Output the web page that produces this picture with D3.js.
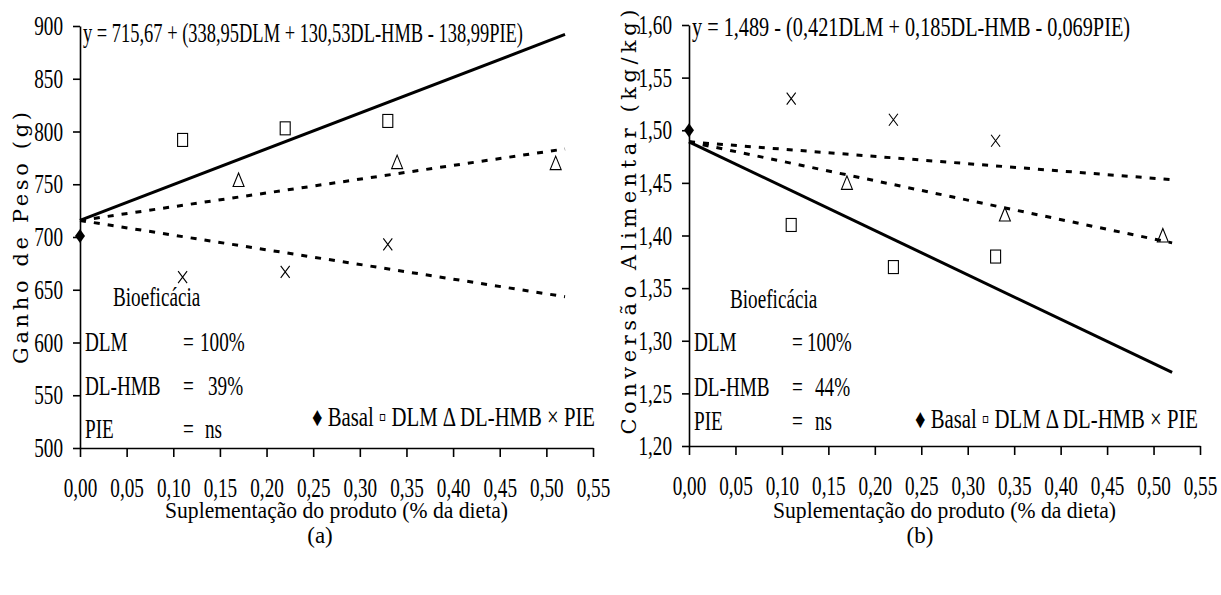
<!DOCTYPE html>
<html>
<head>
<meta charset="utf-8">
<script src="https://cdn.jsdelivr.net/npm/d3@7"></script>
<style>
  body { margin: 0; background: #fff; }
  text { font-family: "Liberation Serif", "Times New Roman", serif; fill: #000; }
</style>
</head>
<body>
<div id="chart"></div>
<script>
// shared x values
const xTicks = [0, 0.05, 0.10, 0.15, 0.20, 0.25, 0.30, 0.35, 0.40, 0.45, 0.50, 0.55];
const basalX = [0];
const dlmX = [0.11, 0.22, 0.33];
const hmbX = [0.17, 0.34, 0.51];
const pieX = [0.11, 0.22, 0.33];
const fitX = [0, 0.52];

// (a) Ganho de Peso
const yTicksA = [500, 550, 600, 650, 700, 750, 800, 850, 900];
const basalA = [701];
const dlmA = [792, 803, 810];
const hmbA = [754, 771, 770];
const pieA = [662, 667, 693];
const fitDlmA = [715.67, 892.0];
const fitHmbA = [715.67, 783.5];
const fitPieA = [715.67, 643.4];

// (b) Conversão Alimentar
const yTicksB = [1.20, 1.25, 1.30, 1.35, 1.40, 1.45, 1.50, 1.55, 1.60];
const basalB = [1.50];
const dlmB = [1.41, 1.37, 1.38];
const hmbB = [1.45, 1.42, 1.40];
const pieB = [1.53, 1.51, 1.49];
const fitDlmB = [1.489, 1.270];
const fitHmbB = [1.489, 1.393];
const fitPieB = [1.489, 1.453];

const svg = d3.select('#chart')
    .append('svg')
    .attr('width', 1221)
    .attr('height', 595);

const comma = f => v => d3.format(f)(v).replace('.', ',');

// squeeze text horizontally, the original glyphs are tall and narrow
function squeeze(sel, k) {
    sel.each(function () {
        let w = this.getComputedTextLength();
        d3.select(this).attr('textLength', w * k).attr('lengthAdjust', 'spacingAndGlyphs');
    });
}

function drawPanel(p) {
    let g = svg.append('g');
    let x = d3.scaleLinear().domain([0, 0.55]).range([p.left, p.right]);
    let y = d3.scaleLinear().domain(p.yDomain).range([p.bottom, p.top]);

    // fitted lines
    let line = d3.line().x(d => x(d[0])).y(d => y(d[1]));
    g.append('path')
        .attr('d', line(d3.zip(fitX, p.fitDlm)))
        .attr('fill', 'none').attr('stroke', '#000').attr('stroke-width', 3);
    g.append('path')
        .attr('d', line(d3.zip(fitX, p.fitHmb)))
        .attr('fill', 'none').attr('stroke', '#000').attr('stroke-width', 3)
        .attr('stroke-dasharray', '6,8');
    g.append('path')
        .attr('d', line(d3.zip(fitX, p.fitPie)))
        .attr('fill', 'none').attr('stroke', '#000').attr('stroke-width', 3)
        .attr('stroke-dasharray', '6,8');

    // axes
    let xAxis = g.append('g')
        .attr('transform', 'translate(0,' + p.bottom + ')')
        .call(d3.axisBottom(x).tickValues(xTicks).tickSize(9).tickSizeOuter(0)
            .tickPadding(25).tickFormat(comma('.2f')));
    let yAxis = g.append('g')
        .attr('transform', 'translate(' + p.left + ',0)')
        .call(d3.axisLeft(y).tickValues(p.yTicks).tickSize(7).tickSizeOuter(0)
            .tickPadding(10).tickFormat(p.yFormat));
    [xAxis, yAxis].forEach(a => {
        a.select('.domain').attr('stroke-width', 1.6);
        a.selectAll('.tick line').attr('stroke-width', 1.6);
        a.selectAll('text')
            .style('font-family', '"Liberation Serif", serif')
            .style('font-size', '27px');
        squeeze(a.selectAll('text'), 0.71);
    });
    xAxis.selectAll('text').attr('y', 30);

    // points
    g.selectAll('.basal').data(basalX).enter().append('path')
        .attr('transform', (d, i) => 'translate(' + x(d) + ',' + y(p.basal[i]) + ')')
        .attr('d', 'M0,-7L5,0L0,7L-5,0Z').attr('fill', '#000');
    g.selectAll('.dlm').data(dlmX).enter().append('rect')
        .attr('x', d => x(d) - 5).attr('y', (d, i) => y(p.dlm[i]) - 6.5)
        .attr('width', 10).attr('height', 13)
        .attr('fill', 'none').attr('stroke', '#000').attr('stroke-width', 1.1);
    g.selectAll('.hmb').data(hmbX).enter().append('path')
        .attr('transform', (d, i) => 'translate(' + x(d) + ',' + y(p.hmb[i]) + ')')
        .attr('d', 'M0,-7L5.5,6.5L-5.5,6.5Z')
        .attr('fill', 'none').attr('stroke', '#000').attr('stroke-width', 1.1);
    g.selectAll('.pie').data(pieX).enter().append('path')
        .attr('transform', (d, i) => 'translate(' + x(d) + ',' + y(p.pie[i]) + ')')
        .attr('d', 'M-4.5,-6L4.5,6M4.5,-6L-4.5,6')
        .attr('fill', 'none').attr('stroke', '#000').attr('stroke-width', 1.1);

    // equation
    g.append('text')
        .attr('x', p.left + 3).attr('y', p.eqY)
        .style('font-size', '27px')
        .attr('textLength', p.eqLen).attr('lengthAdjust', 'spacingAndGlyphs')
        .text(p.equation);

    // bioeficácia block
    let b = g.append('g').style('font-size', '27px');
    b.append('text').attr('x', p.bioX).attr('y', p.bioY[0]).text('Bioeficácia');
    p.bioRows.forEach((r, i) => {
        b.append('text').attr('x', p.left + 5).attr('y', p.bioY[i + 1]).text(r[0]);
        b.append('text').attr('x', p.eqX).attr('y', p.bioY[i + 1]).text('=');
        b.append('text').attr('x', p.valX[i]).attr('y', p.bioY[i + 1]).text(r[1]);
    });
    squeeze(b.selectAll('text'), 0.71);

    // legend
    g.append('text')
        .attr('x', p.legX).attr('y', p.legY)
        .style('font-size', '27px')
        .attr('textLength', 283).attr('lengthAdjust', 'spacingAndGlyphs')
        .text('\u2666 Basal \u25AB DLM \u0394 DL-HMB \u00D7 PIE');

    // axis titles
    g.append('text')
        .attr('x', (p.left + p.right) / 2).attr('y', 518)
        .attr('text-anchor', 'middle')
        .style('font-size', '23px')
        .attr('textLength', 343).attr('lengthAdjust', 'spacingAndGlyphs')
        .text('Suplementação do produto (% da dieta)');
    g.append('text')
        .attr('transform', 'translate(' + p.titleX + ',' + p.titleY + ') rotate(-90)')
        .attr('text-anchor', 'middle')
        .style('font-family', '"DejaVu Serif", serif')
        .style('font-size', '21px')
        .attr('textLength', p.titleLen).attr('lengthAdjust', 'spacing')
        .text(p.yTitle);
    g.append('text')
        .attr('x', p.capX).attr('y', 543)
        .attr('text-anchor', 'middle')
        .style('font-size', '23px')
        .text(p.caption);
}

drawPanel({
    left: 80, right: 593, top: 26, bottom: 448,
    yDomain: [500, 900], yTicks: yTicksA, yFormat: d3.format('d'),
    basal: basalA, dlm: dlmA, hmb: hmbA, pie: pieA,
    fitDlm: fitDlmA, fitHmb: fitHmbA, fitPie: fitPieA,
    equation: 'y = 715,67 + (338,95DLM + 130,53DL-HMB - 138,99PIE)',
    eqY: 42, eqLen: 440,
    bioX: 113, bioY: [306, 351, 395, 438], eqX: 183, valX: [200, 208, 205],
    bioRows: [['DLM', '100%'], ['DL-HMB', '39%'], ['PIE', 'ns']],
    legX: 312, legY: 426,
    yTitle: 'Ganho de Peso (g)', titleX: 28, titleY: 238, titleLen: 252,
    capX: 320, caption: '(a)'
});

drawPanel({
    left: 689, right: 1200, top: 25, bottom: 446,
    yDomain: [1.2, 1.6], yTicks: yTicksB, yFormat: comma('.2f'),
    basal: basalB, dlm: dlmB, hmb: hmbB, pie: pieB,
    fitDlm: fitDlmB, fitHmb: fitHmbB, fitPie: fitPieB,
    equation: 'y = 1,489 - (0,421DLM + 0,185DL-HMB - 0,069PIE)',
    eqY: 36, eqLen: 438,
    bioX: 730, bioY: [308, 351, 396, 430], eqX: 792, valX: [807, 815, 815],
    bioRows: [['DLM', '100%'], ['DL-HMB', '44%'], ['PIE', 'ns']],
    legX: 915, legY: 428,
    yTitle: 'Conversão Alimentar (kg/kg)', titleX: 636, titleY: 222, titleLen: 425,
    capX: 920, caption: '(b)'
});
</script>
</body>
</html>
